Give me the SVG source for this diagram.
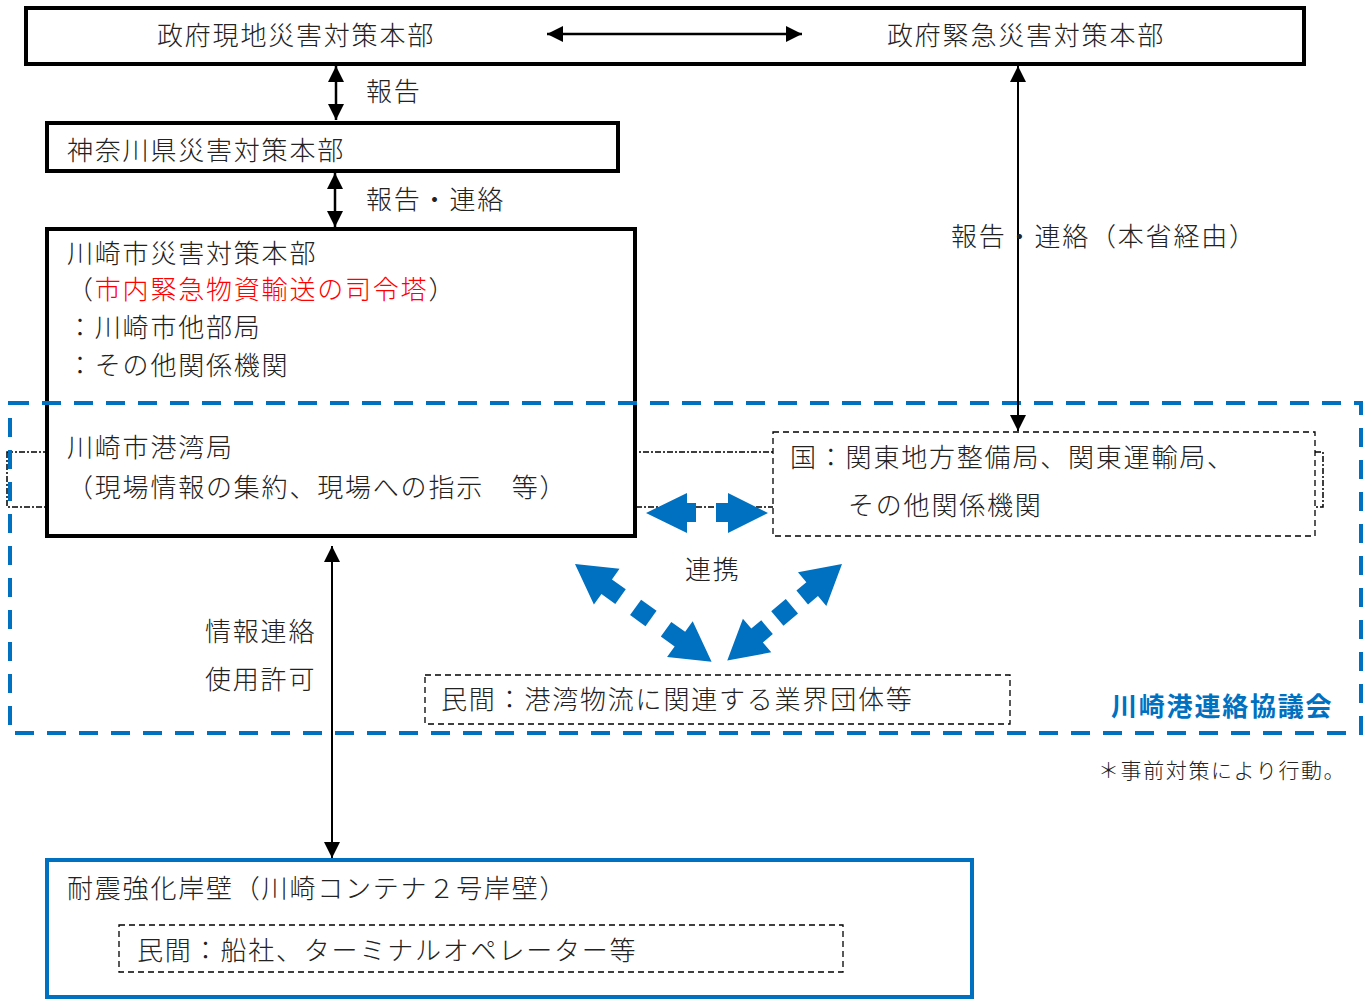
<svg xmlns="http://www.w3.org/2000/svg" width="1372" height="999" viewBox="0 0 1372 999">
<style>
text{font-family:"Noto Sans CJK JP","Noto Sans CJK SC",sans-serif;font-size:26px;letter-spacing:1.8px;fill:#222;font-weight:300}
.box{fill:#fff;stroke:#000;stroke-width:4}
.dbox{fill:#fff;stroke:#000;stroke-width:1.3;stroke-dasharray:6 4}
.blue{fill:none;stroke:#0070C0;stroke-width:4}
.conn{stroke:#000;fill:none}
.barrow{fill:#0070C0}
</style>
<defs>
<marker id="ah" markerUnits="userSpaceOnUse" markerWidth="16" markerHeight="16" refX="14" refY="7" orient="auto-start-reverse" viewBox="0 0 14 14">
<path d="M0,0 L14,7 L0,14 z" fill="#000"/>
</marker>
</defs>

<!-- dash-dot link band behind boxes -->
<rect x="7" y="452" width="1316" height="55" fill="none" stroke="#000" stroke-width="1.5" stroke-dasharray="6 2 2 2"/>

<g id="node-gov">
<rect class="box" x="26" y="8" width="1278" height="56"/>
<text x="157" y="45">政府現地災害対策本部</text>
<text x="887" y="45">政府緊急災害対策本部</text>
</g>

<g id="node-kanagawa">
<rect class="box" x="47" y="123" width="571" height="48"/>
<text x="67" y="160">神奈川県災害対策本部</text>
</g>

<g id="node-kawasaki">
<rect class="box" x="47" y="229" width="588" height="307"/>
<text x="67" y="263">川崎市災害対策本部</text>
<text x="67" y="299">（<tspan fill="#FF0000" style="fill:#FF0000">市内緊急物資輸送の司令塔</tspan>）</text>
<text x="67" y="337">：川崎市他部局</text>
<text x="67" y="375">：その他関係機関</text>
<text x="67" y="457">川崎市港湾局</text>
<text x="67" y="497">（現場情報の集約、現場への指示　等）</text>
</g>

<g id="node-kuni">
<rect class="dbox" x="773" y="432" width="542" height="104"/>
<text x="790" y="467">国：関東地方整備局、関東運輸局、</text>
<text x="848" y="515">その他関係機関</text>
</g>

<g id="node-minkan">
<rect class="dbox" x="425" y="675" width="585" height="49"/>
<text x="441" y="709">民間：港湾物流に関連する業界団体等</text>
</g>

<g id="node-council">
<rect class="blue" x="10" y="403" width="1351" height="330" stroke-dasharray="19 13"/>
<text x="1111" y="716" style="fill:#0070C0;font-weight:700">川崎港連絡協議会</text>
</g>

<g id="node-gangpeki">
<rect x="47" y="860" width="925" height="137" fill="#fff" stroke="#0070C0" stroke-width="4"/>
<text x="67" y="898">耐震強化岸壁（川崎コンテナ２号岸壁）</text>
<rect class="dbox" x="119" y="925" width="724" height="47"/>
<text x="137" y="960">民間：船社、ターミナルオペレーター等</text>
</g>

<g id="connectors">
<line class="conn" x1="547" y1="34" x2="802" y2="34" stroke-width="2.5" marker-start="url(#ah)" marker-end="url(#ah)"/>
<line class="conn" x1="336" y1="66" x2="336" y2="120" stroke-width="2.5" marker-start="url(#ah)" marker-end="url(#ah)"/>
<line class="conn" x1="335" y1="173" x2="335" y2="227" stroke-width="2.5" marker-start="url(#ah)" marker-end="url(#ah)"/>
<line class="conn" x1="1018" y1="66" x2="1018" y2="431" stroke-width="2" marker-start="url(#ah)" marker-end="url(#ah)"/>
<line class="conn" x1="332" y1="546" x2="332" y2="858" stroke-width="2" marker-start="url(#ah)" marker-end="url(#ah)"/>

<polygon class="barrow" points="646,513 687,493 687,503 696,503 696,522 687,522 687,533"/>
<polygon class="barrow" points="768,513 728,493 728,503 716,503 716,522 728,522 728,533"/>

<g transform="translate(575,564) rotate(35.6)">
<polygon class="barrow" points="0,0 39,-22 39,-9 56,-9 56,9 39,9 39,22"/>
<rect class="barrow" x="74.5" y="-9.5" width="19" height="19"/>
<polygon class="barrow" points="168,0 129,-22 129,-9 112,-9 112,9 129,9 129,22"/>
</g>
<g transform="translate(842,564) rotate(139.9)">
<polygon class="barrow" points="0,0 39,-22 39,-9 52,-9 52,9 39,9 39,22"/>
<rect class="barrow" x="65.5" y="-9.5" width="19" height="19"/>
<polygon class="barrow" points="150,0 111,-22 111,-9 98,-9 98,9 111,9 111,22"/>
</g>

<text x="366" y="101">報告</text>
<text x="366" y="209">報告・連絡</text>
<text x="951" y="246">報告・連絡（本省経由）</text>
<text x="685" y="579">連携</text>
<text x="205" y="641">情報連絡</text>
<text x="205" y="689">使用許可</text>
</g>

<text x="1098" y="778" style="font-size:21px;letter-spacing:1.6px">＊事前対策により行動。</text>
</svg>
